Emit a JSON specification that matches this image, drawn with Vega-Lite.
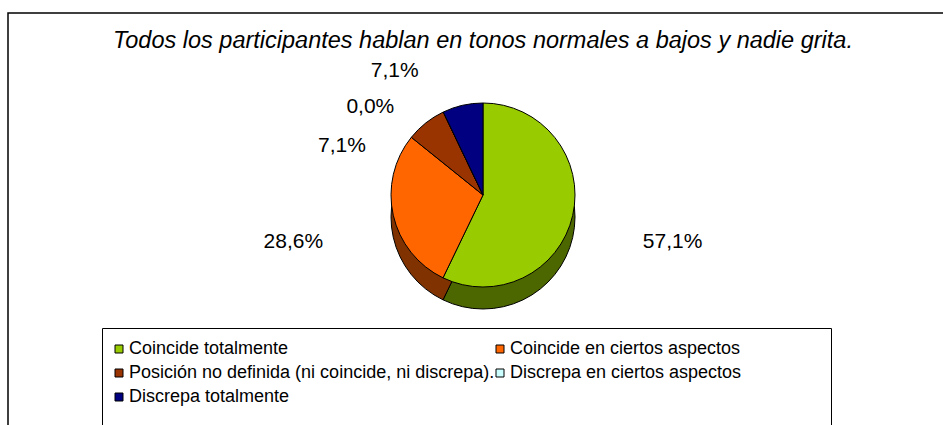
{
  "$schema": "https://vega.github.io/schema/vega-lite/v6.json",
  "autosize": "none",
  "width": 950,
  "height": 420,
  "padding": {"left": 8, "top": 13, "right": 0, "bottom": 0},
  "background": "white",
  "view": {"stroke": "black", "strokeWidth": 1.5, "fill": "white"},
  "config": {
    "view": {"stroke": "black", "strokeWidth": 1.5},
    "font": "Liberation Sans",
    "locale": {"number": {"decimal": ",", "thousands": ".", "grouping": [3], "currency": ["", " €"]}}
  },
  "title": {
    "text": "Todos los participantes hablan en tonos normales a bajos y nadie grita.",
    "font": "Liberation Sans",
    "fontSize": 23.5,
    "fontStyle": "italic",
    "fontWeight": "normal",
    "color": "black",
    "anchor": "middle",
    "offset": -39
  },
  "data": {
    "values": [
      {"i": 1, "cat": "Coincide totalmente", "p": 0.571},
      {"i": 2, "cat": "Coincide en ciertos aspectos", "p": 0.286},
      {"i": 3, "cat": "Posición no definida (ni coincide, ni discrepa).", "p": 0.071},
      {"i": 4, "cat": "Discrepa en ciertos aspectos", "p": 0.0},
      {"i": 5, "cat": "Discrepa totalmente", "p": 0.071}
    ]
  },
  "layer": [
    {
      "mark": {"type": "arc", "outerRadius": 92, "yOffset": -6, "stroke": "black", "strokeWidth": 1},
      "encoding": {
        "theta": {"field": "p", "type": "quantitative", "stack": true},
        "order": {"field": "i", "type": "quantitative"},
        "color": {
          "field": "cat", "type": "nominal", "legend": null,
          "scale": {
            "domain": ["Coincide totalmente", "Posición no definida (ni coincide, ni discrepa).", "Discrepa totalmente", "Coincide en ciertos aspectos", "Discrepa en ciertos aspectos"],
            "range": ["#4C6600", "#4D1A00", "#000040", "#803300", "#668080"]
          }
        }
      }
    },
    {
      "mark": {"type": "arc", "outerRadius": 92, "yOffset": -28, "stroke": "black", "strokeWidth": 1},
      "encoding": {
        "theta": {"field": "p", "type": "quantitative", "stack": true},
        "order": {"field": "i", "type": "quantitative"},
        "color": {
          "field": "cat", "type": "nominal",
          "scale": {
            "domain": ["Coincide totalmente", "Posición no definida (ni coincide, ni discrepa).", "Discrepa totalmente", "Coincide en ciertos aspectos", "Discrepa en ciertos aspectos"],
            "range": ["#99CC00", "#993300", "#000080", "#FF6600", "#CCFFFF"]
          },
          "legend": {
            "orient": "none",
            "legendX": 94,
            "legendY": 315,
            "columns": 2,
            "gridAlign": "all",
            "title": ["\u00a0", "\u00a0", "\u00a0", "\u00a0", "\u00a0", "\u00a0"],
            "titleOrient": "right",
            "titleFontSize": 20,
            "titlePadding": 78,
            "symbolType": "square",
            "symbolSize": 64,
            "symbolStrokeColor": "black",
            "symbolStrokeWidth": 1,
            "symbolOffset": -4,
            "labelFont": "Liberation Sans",
            "labelFontSize": 18,
            "labelColor": "black",
            "labelLimit": 600,
            "labelOffset": 1,
            "strokeColor": "black",
            "padding": 12,
            "rowPadding": 6,
            "columnPadding": -3
          }
        }
      }
    },
    {
      "mark": {"type": "text", "radius": 135, "yOffset": -28, "dx": 58, "dy": 17, "font": "Liberation Sans", "fontSize": 21, "color": "black"},
      "encoding": {
        "theta": {"field": "p", "type": "quantitative", "stack": true},
        "order": {"field": "i", "type": "quantitative"},
        "text": {"condition": {"test": "datum.i == 1", "field": "p", "type": "quantitative", "format": ".1%"}, "value": ""}
      }
    },
    {
      "mark": {"type": "text", "radius": 135, "yOffset": -28, "dx": -58, "dy": 17, "font": "Liberation Sans", "fontSize": 21, "color": "black"},
      "encoding": {
        "theta": {"field": "p", "type": "quantitative", "stack": true},
        "order": {"field": "i", "type": "quantitative"},
        "text": {"condition": {"test": "datum.i == 2", "field": "p", "type": "quantitative", "format": ".1%"}, "value": ""}
      }
    },
    {
      "mark": {"type": "text", "radius": 95, "yOffset": -28, "dx": -82, "dy": 25, "font": "Liberation Sans", "fontSize": 21, "color": "black"},
      "encoding": {
        "theta": {"field": "p", "type": "quantitative", "stack": true},
        "order": {"field": "i", "type": "quantitative"},
        "text": {"condition": {"test": "datum.i == 3", "field": "p", "type": "quantitative", "format": ".1%"}, "value": ""}
      }
    },
    {
      "mark": {"type": "text", "radius": 108, "yOffset": -28, "dx": -66, "dy": 9, "font": "Liberation Sans", "fontSize": 21, "color": "black"},
      "encoding": {
        "theta": {"field": "p", "type": "quantitative", "stack": true},
        "order": {"field": "i", "type": "quantitative"},
        "text": {"condition": {"test": "datum.i == 4", "field": "p", "type": "quantitative", "format": ".1%"}, "value": ""}
      }
    },
    {
      "mark": {"type": "text", "radius": 128, "yOffset": -28, "dx": -60, "dy": 1, "font": "Liberation Sans", "fontSize": 21, "color": "black"},
      "encoding": {
        "theta": {"field": "p", "type": "quantitative", "stack": true},
        "order": {"field": "i", "type": "quantitative"},
        "text": {"condition": {"test": "datum.i == 5", "field": "p", "type": "quantitative", "format": ".1%"}, "value": ""}
      }
    }
  ],
  "resolve": {"scale": {"color": "independent"}}
}
